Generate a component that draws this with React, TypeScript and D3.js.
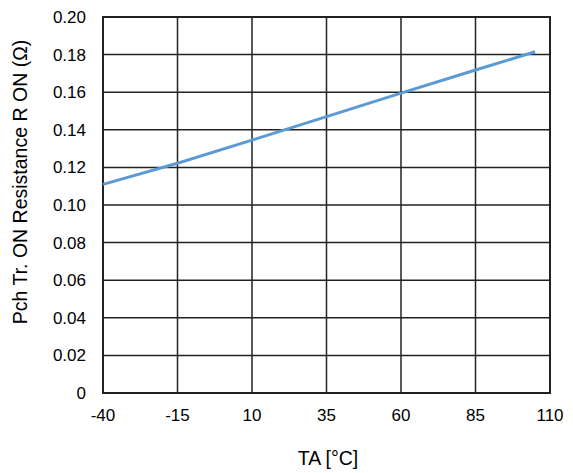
import React from "react";
import * as d3 from "d3";

const temps = [-40, -15, 10, 35, 60, 85, 105];
const ron = [0.111, 0.1222, 0.1345, 0.147, 0.1595, 0.1718, 0.1815];
const xTicks = [-40, -15, 10, 35, 60, 85, 110];
const yTicks = [0, 0.02, 0.04, 0.06, 0.08, 0.1, 0.12, 0.14, 0.16, 0.18, 0.2];

const W = 573;
const H = 473;
const L = 103, R = 550, T = 17, B = 393;

export default function App() {
  const x = d3.scaleLinear().domain([-40, 110]).range([L, R]);
  const y = d3.scaleLinear().domain([0, 0.2]).range([B, T]);
  const line = d3
    .line<number>()
    .x((_, i) => x(temps[i]))
    .y((d) => y(d));
  const font = "'Liberation Sans', Arial, sans-serif";
  return (
    <svg
      width={W}
      height={H}
      style={{ position: "absolute", left: 0, top: 0 }}
      fontFamily={font}
    >
      <rect width={W} height={H} fill="#fff" />
      {xTicks.map((t) => (
        <line key={"gx" + t} x1={x(t)} x2={x(t)} y1={T} y2={B} stroke="#222" strokeWidth={1.5} />
      ))}
      {yTicks.map((t) => (
        <line key={"gy" + t} x1={L} x2={R} y1={y(t)} y2={y(t)} stroke="#222" strokeWidth={1.5} />
      ))}
      <rect x={L} y={T} width={R - L} height={B - T} fill="none" stroke="#222" strokeWidth={2} />
      <path d={line(ron) || ""} fill="none" stroke="#5b9bd5" strokeWidth={3} />
      {xTicks.map((t) => (
        <text key={"tx" + t} x={x(t)} y={421} textAnchor="middle" fontSize={17} fill="#000">
          {t}
        </text>
      ))}
      {yTicks.map((t) => (
        <text key={"ty" + t} x={86} y={y(t) + 6} textAnchor="end" fontSize={17} fill="#000">
          {t === 0 ? "0" : t.toFixed(2)}
        </text>
      ))}
      <text x={328} y={465} textAnchor="middle" fontSize={19.5} fill="#000">
        TA [°C]
      </text>
      <text
        transform={`translate(27,${182}) rotate(-90)`}
        textAnchor="middle"
        fontSize={19.5}
        fill="#000"
      >
        Pch Tr. ON Resistance R ON (Ω)
      </text>
    </svg>
  );
}
